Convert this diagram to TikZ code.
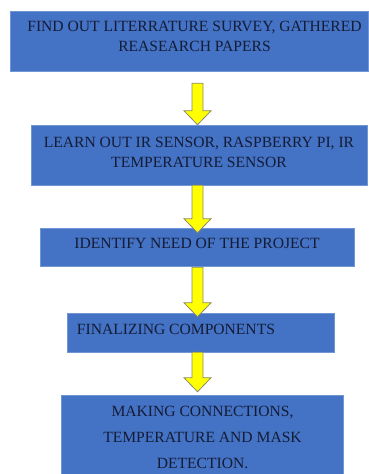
\documentclass[tikz,border=0pt]{standalone}
\usepackage{fontspec}
\setmainfont{Liberation Serif}
\usetikzlibrary{calc}
\definecolor{boxblue}{HTML}{4472C4}
\definecolor{boxedge}{HTML}{7096D6}
\definecolor{txtnavy}{HTML}{141C36}
\definecolor{arrowyellow}{HTML}{FFFF00}
\definecolor{arrowedge}{HTML}{8A8A70}
\tikzset{
  box/.style={fill=boxblue, draw=boxedge, line width=0.5pt, inner sep=0pt, anchor=center},
  txt/.style={text=txtnavy, align=center, inner sep=0pt, font=\fontsize{15.6}{20.5}\selectfont},
  yarrow/.style={fill=arrowyellow, draw=arrowedge, line width=0.8pt, line join=miter},
}
\newcommand\yellowarrow[2]{%
  \draw[yarrow] let \p1=(#1), \p2=(#2) in
    (\x1-5.5pt,\y1) -- (\x1+5.5pt,\y1) -- (\x1+5.5pt,\y2+14pt) -- (\x1+13.5pt,\y2+14pt)
    -- (\x1,\y2) -- (\x1-13.5pt,\y2+14pt) -- (\x1-5.5pt,\y2+14pt) -- cycle;}
\begin{document}
\begin{tikzpicture}[x=1pt,y=1pt]
\useasboundingbox (0,0) rectangle (368,474);
% boxes
\node[box, minimum width=358pt, minimum height=60pt] (b1) at (189,433) {};
\node[box, minimum width=336pt, minimum height=60pt] (b2) at (199,319) {};
\node[box, minimum width=314pt, minimum height=38pt] (b3) at (197,227) {};
\node[box, minimum width=267pt, minimum height=39pt] (b4) at (200.5,141.5) {};
\node[box, minimum width=282pt, minimum height=79pt] (b5) at (202,39.5) {};
% texts
\node[txt] (t1) at ($(b1.center)+(5.5,4.5)$) {FIND OUT LITERRATURE SURVEY, GATHERED\\REASEARCH PAPERS};
\node[txt] (t2) at ($(b2.center)+(0,2.5)$) {LEARN OUT IR SENSOR, RASPBERRY PI, IR\\TEMPERATURE SENSOR};
\node[txt] (t3) at ($(b3.center)+(0,4)$) {IDENTIFY NEED OF THE PROJECT};
\node[txt, anchor=west] (t4) at ($(b4.west)+(10,3)$) {FINALIZING COMPONENTS};
\node[txt, font=\fontsize{15.6}{26}\selectfont] (t5) at ($(b5.center)+(0.5,-2.5)$) {MAKING CONNECTIONS,\\TEMPERATURE AND MASK\\DETECTION.};
% arrow end points
\coordinate (a1s) at ($(b1.south)+(8.5,-12)$);
\coordinate (a1e) at ($(b2.north)+(-1.5,0)$);
\coordinate (a2s) at ($(b2.south)+(-1.5,0)$);
\coordinate (a2e) at ($(b3.north)+(0.5,-5)$);
\coordinate (a3s) at ($(b3.south)+(0.5,-1)$);
\coordinate (a3e) at ($(b4.north)+(-3,-4)$);
\coordinate (a4s) at ($(b4.south)+(-3,0)$);
\coordinate (a4e) at ($(b5.north)+(-4.5,3)$);
\yellowarrow{a1s}{a1e}
\yellowarrow{a2s}{a2e}
\yellowarrow{a3s}{a3e}
\yellowarrow{a4s}{a4e}
\end{tikzpicture}
\end{document}
